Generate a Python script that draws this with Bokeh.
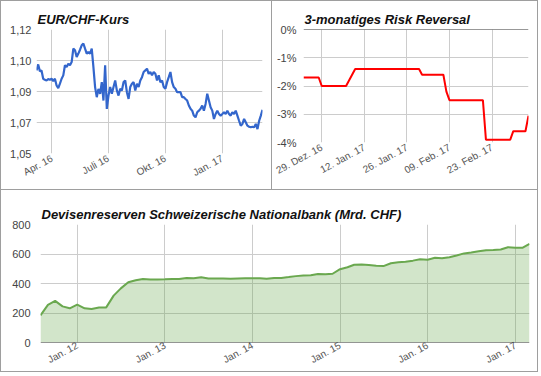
import pandas as pd
from bokeh.plotting import figure
from bokeh.layouts import column, row
from bokeh.models import FixedTicker, Range1d, Span
from bokeh.embed import file_html
from bokeh.resources import INLINE

# ---------------- data ----------------
# EUR/CHF exchange rate (Mar 2016 - Mar 2017)
eurchf_start = "2016-03-07"
eurchf_end = "2017-03-07"
eurchf_values = [
    1.0969, 1.1003, 1.0965, 1.0969, 1.0922, 1.0916, 1.0912, 1.0920, 1.0916, 1.0922,
    1.0909, 1.0922, 1.0884, 1.0869, 1.0894, 1.0922, 1.0941, 1.0998, 1.0988, 1.1007,
    1.0998, 1.1016, 1.1092, 1.1083, 1.1045, 1.1064, 1.1086, 1.1111, 1.1121, 1.1092,
    1.1064, 1.1073, 1.1064, 1.1092, 1.0988, 1.0875, 1.0818, 1.0865, 1.0837, 1.0903,
    1.0799, 1.0998, 1.0752, 1.0827, 1.0875, 1.0837, 1.0875, 1.0912, 1.0856, 1.0827,
    1.0865, 1.0856, 1.0903, 1.0912, 1.0846, 1.0808, 1.0875, 1.0894, 1.0903, 1.0856,
    1.0894, 1.0875, 1.0912, 1.0931, 1.0960, 1.0969, 1.0979, 1.0950, 1.0960, 1.0941,
    1.0960, 1.0950, 1.0912, 1.0941, 1.0903, 1.0912, 1.0875, 1.0865, 1.0903, 1.0931,
    1.0960, 1.0903, 1.0875, 1.0865, 1.0846, 1.0846, 1.0846, 1.0818, 1.0818, 1.0808,
    1.0799, 1.0771, 1.0752, 1.0742, 1.0714, 1.0704, 1.0733, 1.0742, 1.0752, 1.0771,
    1.0742, 1.0780, 1.0837, 1.0799, 1.0761, 1.0742, 1.0695, 1.0723, 1.0742, 1.0723,
    1.0714, 1.0723, 1.0733, 1.0723, 1.0742, 1.0723, 1.0714, 1.0733, 1.0723, 1.0742,
    1.0714, 1.0685, 1.0657, 1.0667, 1.0695, 1.0676, 1.0657, 1.0651, 1.0648, 1.0651,
    1.0648, 1.0667, 1.0638, 1.0685, 1.0714, 1.0746,
]
eurchf_yticks = [1.05, 1.0675, 1.085, 1.1025, 1.12]
eurchf_ylabels = ["1,05", "1,07", "1,09", "1,10", "1,12"]
eurchf_xticks = ["2016-04-01", "2016-07-01", "2016-10-01", "2017-01-01"]
eurchf_xlabels = ["Apr. 16", "Juli 16", "Okt. 16", "Jan. 17"]

# 3-month risk reversal (%)
rr_dates = ["2016-12-23", "2016-12-28", "2016-12-29", "2017-01-06", "2017-01-09",
            "2017-01-30", "2017-01-31", "2017-02-07", "2017-02-08", "2017-02-09",
            "2017-02-20", "2017-02-21", "2017-03-01", "2017-03-02", "2017-03-06",
            "2017-03-07"]
rr_values = [-1.7, -1.7, -2.0, -2.0, -1.4, -1.4, -1.6, -1.6, -2.2, -2.5,
             -2.5, -3.9, -3.9, -3.6, -3.6, -3.05]
rr_yticks = [-4, -3, -2, -1, 0]
rr_ylabels = ["-4%", "-3%", "-2%", "-1%", "0%"]
rr_xticks = ["2016-12-29", "2017-01-12", "2017-01-26", "2017-02-09", "2017-02-23"]
rr_xlabels = ["29. Dez. 16", "12. Jan. 17", "26. Jan. 17", "09. Feb. 17", "23. Feb. 17"]

# SNB foreign currency reserves (bn CHF), monthly from Aug 2011
fx_start = "2011-08-01"
fx_values = [
    184, 255, 282, 245, 232, 257, 232, 227, 237, 238,
    318, 367, 408, 422, 430, 427, 427, 428, 430, 431,
    438, 436, 442, 434, 434, 434, 433, 434, 435, 436,
    435, 432, 437, 438, 444, 450, 454, 456, 465, 462,
    466, 497, 510, 527, 528, 526, 521, 518, 537, 544,
    547, 555, 564, 561, 574, 571, 578, 590, 604, 610,
    618, 626, 627, 630, 646, 643, 643, 668,
]
fx_yticks = [0, 200, 400, 600, 800]
fx_xticks = ["2012-01-01", "2013-01-01", "2014-01-01", "2015-01-01", "2016-01-01", "2017-01-01"]
fx_xlabels = ["Jan. 12", "Jan. 13", "Jan. 14", "Jan. 15", "Jan. 16", "Jan. 17"]

# ---------------- helpers ----------------
FONT = "Liberation Sans"


def ms(d):
    return float(pd.Timestamp(d).value // 10**6)


def style(p, title, shadow):
    p.title.text = title
    p.title.text_font = FONT
    p.title.text_font_size = "13px"
    p.title.text_font_style = "bold italic"
    p.title.text_color = "#111111"
    p.title.align = "left"
    p.title.offset = 1
    p.title.standoff = 5
    p.outline_line_color = None
    p.border_fill_color = None
    p.background_fill_color = "white"
    for ax in (p.xaxis, p.yaxis):
        ax.axis_line_color = None
        ax.major_tick_line_color = None
        ax.minor_tick_line_color = None
        ax.major_tick_out = 0
        ax.major_tick_in = 0
        ax.minor_tick_out = 0
        ax.minor_tick_in = 0
        ax.major_label_text_font = FONT
    p.yaxis.major_label_text_color = "#444444"
    p.xaxis.major_label_text_color = "#555555"
    p.yaxis.major_label_text_font_size = "11px"
    p.xaxis.major_label_text_font_size = "10px"
    p.xaxis.major_label_orientation = 0.5
    p.xaxis.major_label_standoff = 4
    p.grid.grid_line_color = "#cccccc"
    p.grid.grid_line_width = 1
    p.styles = {"background-color": "white", "box-shadow": shadow}


def set_xticks(p, ticks, labels):
    vals = [ms(t) for t in ticks]
    p.xaxis.ticker = FixedTicker(ticks=vals)
    p.xgrid.ticker = FixedTicker(ticks=vals)
    p.xaxis.major_label_overrides = {v: l for v, l in zip(vals, labels)}


def set_yticks(p, ticks, labels):
    p.yaxis.ticker = FixedTicker(ticks=ticks)
    p.ygrid.ticker = FixedTicker(ticks=ticks)
    p.yaxis.major_label_overrides = {float(v): l for v, l in zip(ticks, labels)}


G = "#9e9e9e"

# ---------------- panel 1 ----------------
eurchf_dates = pd.date_range(eurchf_start, eurchf_end, periods=len(eurchf_values))
p1 = figure(width=272, height=190, x_axis_type="datetime",
            x_range=Range1d(ms(eurchf_start), ms(eurchf_end)),
            y_range=Range1d(eurchf_yticks[0], eurchf_yticks[-1]),
            output_backend="svg", toolbar_location=None,
            min_border_left=36, min_border_right=10, min_border_top=29, min_border_bottom=37)
style(p1, "EUR/CHF-Kurs",
      f"inset 1px 0 0 {G}, inset 0 1px 0 {G}, inset -1px 0 0 {G}, inset 0 -1px 0 {G}")
set_xticks(p1, eurchf_xticks, eurchf_xlabels)
set_yticks(p1, eurchf_yticks, eurchf_ylabels)
p1.yaxis.major_label_standoff = 5
p1.line(eurchf_dates, eurchf_values, line_color="#3366cc", line_width=2.2)

# ---------------- panel 2 ----------------
rr_x = pd.to_datetime(rr_dates)
p2 = figure(width=266, height=190, x_axis_type="datetime",
            x_range=Range1d(ms(rr_dates[0]), ms(rr_dates[-1])),
            y_range=Range1d(rr_yticks[0], rr_yticks[-1]),
            output_backend="svg", toolbar_location=None,
            min_border_left=31, min_border_right=10, min_border_top=29, min_border_bottom=48)
style(p2, "3-monatiges Risk Reversal",
      f"inset 0 1px 0 {G}, inset -1px 0 0 {G}, inset 0 -1px 0 {G}")
set_xticks(p2, rr_xticks, rr_xlabels)
set_yticks(p2, rr_yticks, rr_ylabels)
p2.yaxis.major_label_standoff = 7
p2.add_layout(Span(location=0, dimension="width", line_color="#333333", line_width=1))
p2.line(rr_x, rr_values, line_color="#ff0000", line_width=2)

# ---------------- panel 3 ----------------
fx_dates = pd.date_range(fx_start, periods=len(fx_values), freq="MS")
p3 = figure(width=538, height=182, x_axis_type="datetime",
            x_range=Range1d(ms(fx_dates[0]), ms(fx_dates[-1])),
            y_range=Range1d(fx_yticks[0], fx_yticks[-1]),
            output_backend="svg", toolbar_location=None,
            min_border_left=40, min_border_right=9, min_border_top=34, min_border_bottom=28)
style(p3, "Devisenreserven Schweizerische Nationalbank (Mrd. CHF)",
      f"inset 1px 0 0 {G}, inset -1px 0 0 {G}, inset 0 -1px 0 {G}")
set_xticks(p3, fx_xticks, fx_xlabels)
set_yticks(p3, fx_yticks, [str(v) for v in fx_yticks])
p3.yaxis.major_label_standoff = 10
p3.xaxis.major_label_standoff = 2
p3.varea(x=fx_dates, y1=0, y2=fx_values, fill_color="#6aa84f", fill_alpha=0.3)
p3.add_layout(Span(location=0, dimension="width", line_color="#333333", line_width=1))
p3.line(fx_dates, fx_values, line_color="#6aa84f", line_width=2)

layout = column(row(column(p1), column(p2)), p3)
open("out.html", "w").write(file_html(layout, INLINE))
